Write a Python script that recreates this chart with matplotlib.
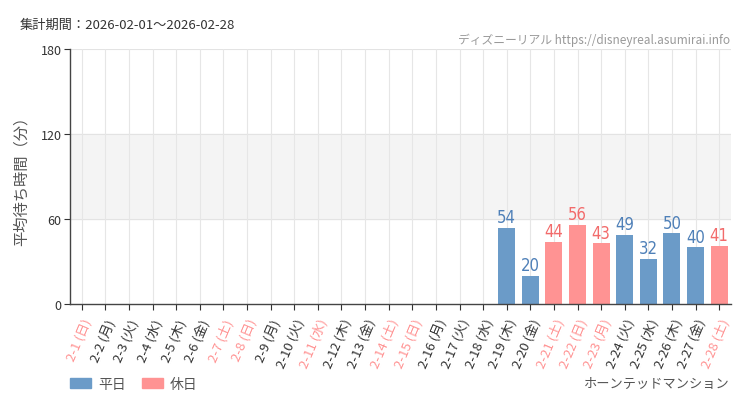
import matplotlib
matplotlib.use("Agg")
import matplotlib.pyplot as plt
from matplotlib.patches import Patch

plt.rcParams['font.family'] = ['Noto Sans CJK JP', 'DejaVu Sans']

dates = [f"2-{d}" for d in range(1, 29)]
weekdays = ["日", "月", "火", "水", "木", "金", "土"] * 4
holiday = [True, False, False, False, False, False, True,
           True, False, False, True, False, False, True,
           True, False, False, False, False, False, True,
           True, True, False, False, False, False, True]
values = [None] * 18 + [54, 20, 44, 56, 43, 49, 32, 50, 40, 41]

BLUE = "#6b9bc8"
PINK = "#ff9393"
BLUE_T = "#4f80b8"
PINK_T = "#f26b6b"

fig = plt.figure(figsize=(7.5, 4.1), dpi=100)
ax = fig.add_axes([70/750, 105/410, 661/750, 255/410])

ax.axhspan(60, 120, color="#f4f4f4", zorder=0)
for y in (60, 120, 180):
    ax.axhline(y, color="#e3e3e3", lw=0.8, zorder=0.5)
for i in range(len(dates)):
    ax.axvline(i, color="#e6e6e6", lw=0.8, zorder=0.5)

for i, v in enumerate(values):
    if v is None:
        continue
    c = PINK if holiday[i] else BLUE
    tc = PINK_T if holiday[i] else BLUE_T
    ax.bar(i, v, width=0.72, color=c, zorder=2)
    ax.text(i, v + 1.0, str(v), ha="center", va="bottom", color=tc,
            fontsize=12, fontstretch="condensed",
            family=['Liberation Sans Narrow', 'DejaVu Sans'], zorder=3)

ax.set_xlim(-0.5, len(dates) - 0.5)
ax.set_ylim(0, 180)
ax.set_yticks([0, 60, 120, 180])
ax.set_yticklabels(["0", "60", "120", "180"], fontsize=9, color="#333333")
ax.set_xticks(range(len(dates)))
labels = [f"{d} ({w})" for d, w in zip(dates, weekdays)]
ax.set_xticklabels(labels, rotation=67, ha="right", va="top", fontsize=9.5,
                   rotation_mode="anchor")
for lab, h in zip(ax.get_xticklabels(), holiday):
    lab.set_color(PINK if h else "#333333")

for s in ("top", "right"):
    ax.spines[s].set_visible(False)
for s in ("left", "bottom"):
    ax.spines[s].set_color("#444444")
    ax.spines[s].set_linewidth(1.0)
ax.tick_params(axis="both", length=4, color="#333333", width=0.8, pad=2)
ax.tick_params(axis="x", pad=5)

ax.set_ylabel("平均待ち時間（分）", fontsize=11, color="#555555", labelpad=8)

fig.text(20/750, 1 - 25/410, "集計期間：2026-02-01～2026-02-28", fontsize=9.5,
         color="#333333", va="center", ha="left")
fig.text(730/750, 1 - 40/410, "ディズニーリアル https://disneyreal.asumirai.info",
         fontsize=8.5, color="#999999", va="center", ha="right",
         family=['Noto Sans CJK JP', 'DejaVu Sans'])
fig.text(730/750, 1 - 384/410, "ホーンテッドマンション", fontsize=9.5,
         color="#555555", va="center", ha="right")

handles = [Patch(color=BLUE, label="平日"), Patch(color=PINK, label="休日")]
fig.legend(handles=handles, loc="center left", bbox_to_anchor=(70/750, 1 - 385/410),
           ncol=2, frameon=False, fontsize=10, handlelength=1.5, handleheight=0.8,
           columnspacing=1.2, handletextpad=0.5, borderpad=0, borderaxespad=0,
           labelcolor="#555555")

fig.savefig("out.png", dpi=100, facecolor="white")
